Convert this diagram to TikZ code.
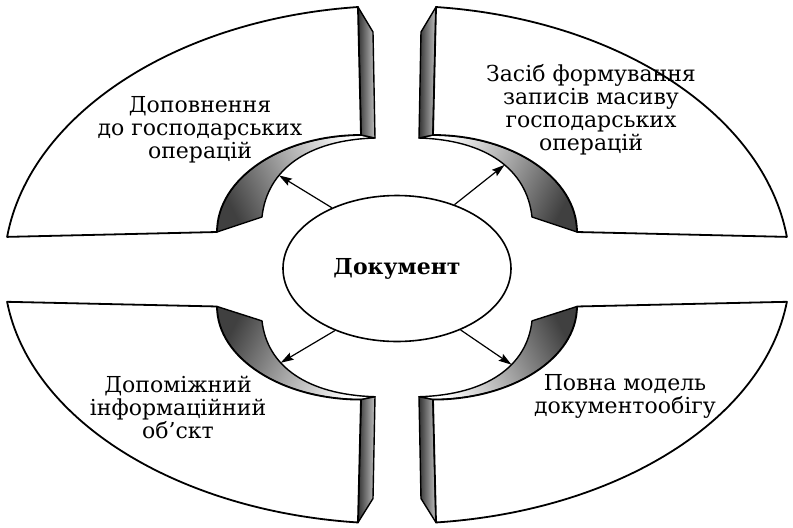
\documentclass[tikz,border=0pt]{standalone}
\usepackage{fontspec}
\setmainfont{DejaVu Serif}
\usetikzlibrary{arrows.meta, shapes.geometric}
\tikzset{
    face/.style={draw=black, line width=0.9pt, fill=white, line join=round},
    band/.style={draw=black, line width=0.7pt, line join=round},
    strip/.style={draw=black, line width=0.7pt, line join=round,
        left color=black!80, right color=black!25},
    docnode/.style={
        ellipse, draw=black, line width=0.8pt, fill=white,
        minimum width=114pt, minimum height=73pt, inner sep=0pt,
        font=\bfseries\fontsize{11}{13}\selectfont
    },
    qtext/.style={align=center, inner sep=0pt,
        font=\fontsize{11}{11.5}\selectfont},
    pointer/.style={
        -{Stealth[length=6.5pt, width=4pt, inset=1pt]},
        line width=0.6pt
    },
}

\begin{document}
\begin{tikzpicture}[x=0.5pt, y=0.5pt]
\useasboundingbox (-397,-257) rectangle (396,270);

% ---- four quarters (drawn as the top-left one, mirrored) ----
\foreach \q/\sx/\sy/\ang/\tp in {tl/1/1/-63/0.34, tr/-1/1/63/0.45,
                                  bl/1/-0.96/-117/0.36, br/-1/-0.96/117/0.38} {
\begin{scope}[xscale=\sx, yscale=\sy]
    \shadedraw[band, top color=white, bottom color=black!75,
        middle color=black!35, shading angle=\ang]
        (-180,38) -- (-135,53)
        .. controls (-130,100) and (-90,130) .. (-22,132)
        coordinate[pos=\tp] (\q-tip)
        -- (-36,135) .. controls (-115,135) and (-180,92) .. cycle;
    \shadedraw[strip] (-39,263) -- (-24,238) -- (-22,132) -- (-36,135) -- cycle;
    \draw[face] (95.7:393 and 264.3)
        arc[start angle=95.7, end angle=172.8, x radius=393, y radius=264.3]
        -- (-180,38) .. controls (-180,92) and (-115,135) .. (-36,135) -- cycle;
\end{scope}
}

% ---- texts ----
\node[docnode] (doc) at (0,1.5) {Документ};
\node[qtext] (tl-text) at (-197,140) {Доповнення\\до господарських\\операцій};
\node[qtext] (tr-text) at (194,160) {Засіб формування\\записів масиву\\господарських\\операцій};
\node[qtext] (bl-text) at (-219,-137) {Допоміжний\\інформаційний\\об’скт};
\node[qtext] (br-text) at (228,-126) {Повна модель\\документообігу};

% ---- arrows ----
\draw[pointer] (doc.137) -- (tl-tip);
\draw[pointer] (doc.48) -- (tr-tip);
\draw[pointer] (doc.225) -- (bl-tip);
\draw[pointer] (doc.-44) -- (br-tip);

\end{tikzpicture}
\end{document}
